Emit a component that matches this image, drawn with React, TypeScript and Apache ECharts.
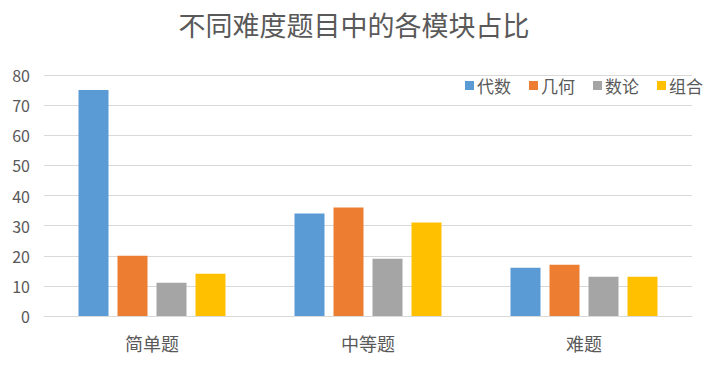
import React, { useEffect, useRef } from "react";
import * as echarts from "echarts";

const categories = ["简单题", "中等题", "难题"];
const seriesNames = ["代数", "几何", "数论", "组合"];
const algebra = [75, 34, 16];
const geometry = [20, 36, 17];
const numberTheory = [11, 19, 13];
const combinatorics = [14, 31, 13];
const colors = ["#5B9BD5", "#ED7D31", "#A5A5A5", "#FFC000"];

export default function App() {
  const ref = useRef<HTMLDivElement>(null);
  useEffect(() => {
    if (!ref.current) return;
    const chart = echarts.init(ref.current, undefined, { renderer: "svg" });
    const font = "'Noto Sans CJK SC', 'Noto Sans', sans-serif";
    const data = [algebra, geometry, numberTheory, combinatorics];
    chart.setOption({
      animation: false,
      backgroundColor: "#ffffff",
      textStyle: { fontFamily: font },
      title: {
        text: "不同难度题目中的各模块占比",
        left: "center",
        top: 6,
        textStyle: { fontSize: 27, fontWeight: "normal", color: "#595959", fontFamily: font },
      },
      legend: {
        data: seriesNames,
        right: 0,
        top: 72,
        itemWidth: 9,
        itemHeight: 9,
        itemGap: 18,
        icon: "rect",
        textStyle: { fontSize: 17, color: "#595959", fontFamily: font, padding: [0, 0, 0, -2] },
      },
      grid: { left: 44, right: 16, top: 75, bottom: 50 },
      xAxis: {
        type: "category",
        data: categories,
        axisTick: { show: false },
        axisLine: { lineStyle: { color: "#d9d9d9", width: 1 } },
        axisLabel: { color: "#595959", fontSize: 18, margin: 18, fontFamily: font },
      },
      yAxis: {
        type: "value",
        min: 0,
        max: 80,
        interval: 10,
        axisLine: { show: false },
        axisTick: { show: false },
        axisLabel: { color: "#595959", fontSize: 16, margin: 14, fontFamily: font },
        splitLine: { lineStyle: { color: "#d9d9d9", width: 1 } },
      },
      series: seriesNames.map((name, i) => ({
        name,
        type: "bar",
        data: data[i],
        barWidth: 30,
        barGap: "30%",
        itemStyle: { color: colors[i] },
      })),
    });
    return () => chart.dispose();
  }, []);
  return (
    <div
      ref={ref}
      style={{ position: "fixed", left: 0, top: 0, width: 708, height: 366 }}
    />
  );
}
